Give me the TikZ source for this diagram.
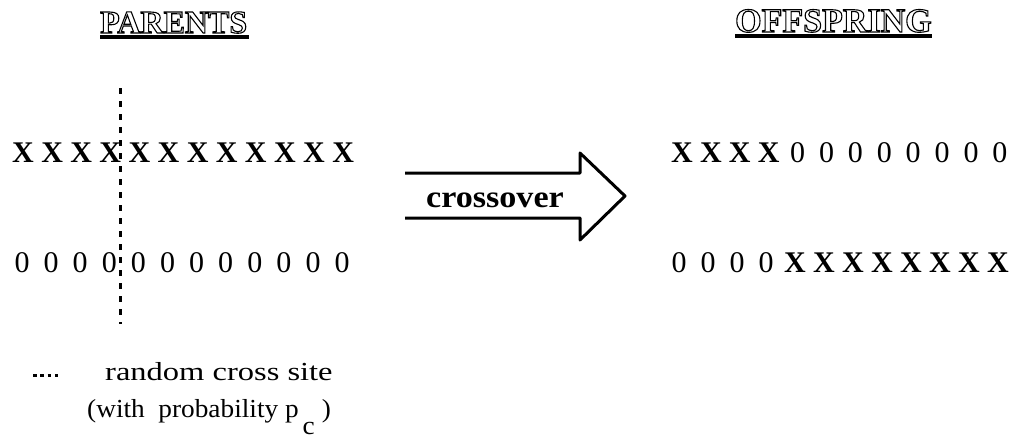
\documentclass[tikz,border=0pt]{standalone}
\usepackage{fontspec}
\setmainfont{Liberation Serif}
\newfontfamily\legendA[FakeStretch=1.25]{Liberation Serif}
\newfontfamily\legendB[FakeStretch=1.05]{Liberation Serif}
\newfontfamily\wideserif[FakeStretch=1.1]{Liberation Serif}
\usetikzlibrary{calc}
\tikzset{
  chx/.style={inner sep=0pt, anchor=base, font=\fontsize{30}{36}\selectfont\bfseries},
  cho/.style={inner sep=0pt, anchor=base, font=\fontsize{30}{36}\selectfont},
  head/.style={inner sep=0pt, anchor=base west},
  uline/.style={line width=3.5pt},
  cutline/.style={line width=3pt, dash pattern=on 6pt off 7pt},
  arrowline/.style={line width=3pt, line join=round},
  legend/.style={inner sep=0pt, anchor=base west},
}
\newcommand{\outlinetext}[1]{%
  \special{pdf:literal direct 1 Tr 1.1 w}#1\special{pdf:literal direct 0 Tr}}
\begin{document}
\begin{tikzpicture}[x=1pt,y=-1pt]
\useasboundingbox (0,0) rectangle (1015,445);

% headings
\node[head, font=\fontsize{32}{38}\selectfont\bfseries] (parents) at (100,33) {\outlinetext{PARENTS}};
\draw[uline] ([yshift=-4pt]parents.base west) -- ([yshift=-4pt,xshift=2pt]parents.base east);
\node[head, font=\fontsize{34}{40}\selectfont\bfseries] (offspring) at (735,32) {\outlinetext{OFFSPRING}};
\draw[uline] ([yshift=-4pt]offspring.base west) -- ([yshift=-4pt]offspring.base east);

% parents rows
\foreach \i in {0,...,11} {
  \node[chx] (pa\i) at ({23+29.1*\i},162) {X};
  \node[cho] (pb\i) at ({22+29.1*\i},272) {0};
}

% cross site
\coordinate (cutTop) at (120,88);
\coordinate (cutBot) at (120,324);
\draw[cutline] (cutTop) -- (cutBot);

% crossover arrow
\coordinate (a1) at (405,173);
\coordinate (a2) at (580,173);
\coordinate (a3) at (580,153);
\coordinate (tip) at (625,196);
\coordinate (a5) at (580,240);
\coordinate (a6) at (580,218);
\coordinate (a7) at (405,218);
\draw[arrowline] (a1) -- (a2) -- (a3) -- (tip) -- (a5) -- (a6) -- (a7);
\node[inner sep=0pt, anchor=base, font=\fontsize{31}{36}\wideserif\bfseries] (xo) at (495,207) {crossover};

% offspring rows
\foreach \i in {0,...,3} {
  \node[chx] (oa\i) at ({682+28.9*\i},162) {X};
  \node[cho] (ob\i) at ({679+29*\i},272) {0};
}
\foreach \i in {4,...,11} {
  \node[cho] (oa\i) at ({682+28.9*\i},162) {0};
  \node[chx] (ob\i) at ({679+29*\i},272) {X};
}

% legend
\coordinate (ld1) at (33,375);
\coordinate (ld2) at (58,375);
\draw[line width=3pt, dash pattern=on 3.5pt off 3.8pt] (ld1) -- (ld2);
\node[legend, font=\fontsize{26}{30}\legendA] (leg1) at (105,380) {random cross site};
\node[legend, font=\fontsize{26}{30}\legendB] (leg2) at (87,417) {(with\ \ probability p\hspace{4pt}\raisebox{-17pt}{c}\hspace{7pt})};
\end{tikzpicture}
\end{document}
